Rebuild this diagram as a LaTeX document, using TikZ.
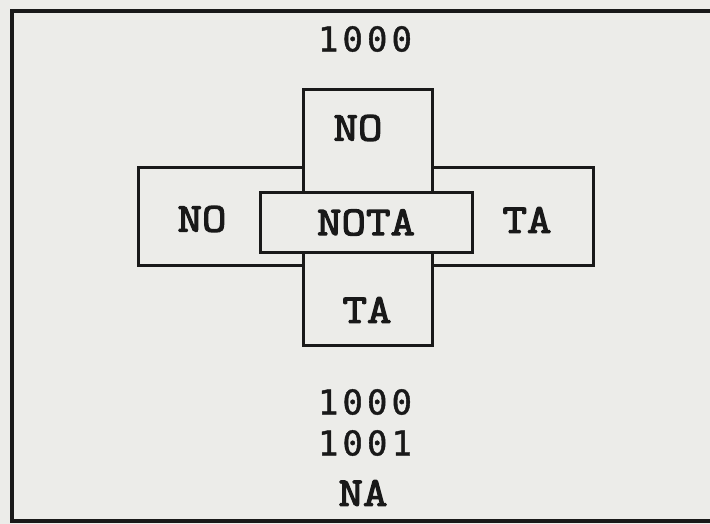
\documentclass[tikz,border=0pt]{standalone}
\usepackage{fontspec}
\newfontfamily\slab{Latin Modern Mono}[FakeBold=3, FakeStretch=1.16]
\newfontfamily\digitfont{DejaVu Sans Mono}[LetterSpace=12, FakeBold=1.2]
\definecolor{paper}{RGB}{236,236,233}
\definecolor{ink}{RGB}{25,25,25}
\tikzset{
  box/.style={draw=ink, line width=3pt, fill=paper, inner sep=0pt, line join=miter},
  word/.style={inner sep=0pt, text=ink, font=\slab\fontsize{41}{41}\selectfont},
  num/.style={inner sep=0pt, text=ink, font=\digitfont\fontsize{34}{34}\selectfont},
}
\begin{document}
\begin{tikzpicture}[x=1pt,y=-1pt]
\useasboundingbox (0,0) rectangle (710,524);
\fill[paper] (0,0) rectangle (710,524);
\draw[ink, line width=4pt] (720,11) -- (12,11) -- (12,521) -- (720,521);
\node[box, minimum width=455pt, minimum height=97pt] (hbox) at (365.5,216.5) {};
\node[box, minimum width=129pt, minimum height=255pt] (vbox) at (367.5,217.5) {};
\node[box, minimum width=212pt, minimum height=59pt] (nota) at (366,222.5) {};
\node[word] (notat) at (nota.center) {NOTA};
\node[word] (notop) at (358,128) {NO};
\node[word] (noleft) at (202,219) {NO};
\node[word] (taright) at (527,220) {TA};
\node[word] (tabot) at (367,310) {TA};
\node[num] (ntop) at (365,39) {1000};
\node[num] (n1) at (365,402) {1000};
\node[num] (n2) at (365,443) {1001};
\node[word] (na) at (363,493) {NA};
\end{tikzpicture}
\end{document}
